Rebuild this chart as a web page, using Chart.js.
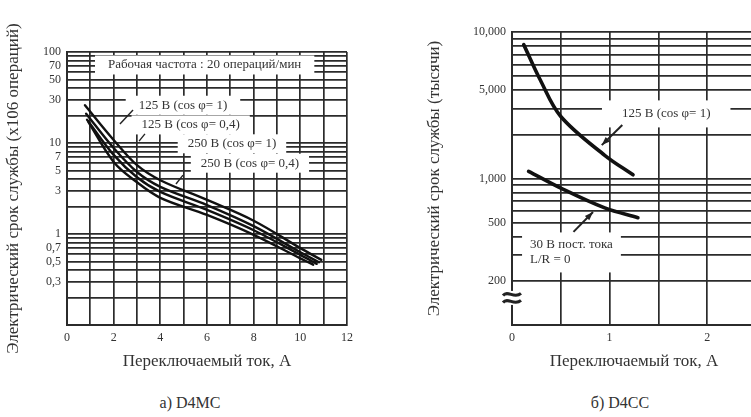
<!DOCTYPE html>
<html>
<head>
<meta charset="utf-8">
<script src="https://cdn.jsdelivr.net/npm/chart.js@4"></script>
<style>
  html, body { margin: 0; padding: 0; background: #fff; overflow: hidden; }
  body { width: 751px; height: 417px; position: relative; font-family: "Liberation Serif", serif; }
  .box { position: absolute; top: 0; height: 380px; }
  .cap { position: absolute; top: 394px; font-size: 16px; color: #333; transform: translateX(-50%); white-space: nowrap; }
</style>
</head>
<body>
<div class="box" style="left:0;width:375px"><canvas id="mc"></canvas></div>
<div class="box" style="left:400px;width:365px"><canvas id="cc"></canvas></div>
<div class="cap" style="left:190px">а) D4MC</div>
<div class="cap" style="left:620px">б) D4CC</div>
<script>
// --- D4MC: life (x10^6 operations) vs switched current, A
const mcLabels = ['125 В (cos φ= 1)', '125 В (cos φ= 0,4)', '250 В (cos φ= 1)', '250 В (cos φ= 0,4)'];
const mc125c1X = [0.77, 2, 3, 4, 6, 8, 10, 10.9];
const mc125c1Y = [26, 10.8, 5.7, 3.9, 2.37, 1.40, 0.70, 0.52];
const mc125c04X = [0.82, 2, 3, 4, 6, 8, 10, 10.8];
const mc125c04Y = [21, 8.8, 4.8, 3.3, 2.08, 1.22, 0.63, 0.49];
const mc250c1X = [0.86, 2, 3, 4, 6, 8, 10, 10.7];
const mc250c1Y = [18, 7.4, 4.2, 2.9, 1.84, 1.10, 0.59, 0.47];
const mc250c04X = [0.92, 2, 3, 4, 6, 8, 10, 10.55];
const mc250c04Y = [17, 6.2, 3.7, 2.5, 1.62, 0.98, 0.54, 0.46];
const mcGridY = [0.1, 0.2, 0.3, 0.4, 0.5, 0.6, 0.7, 0.8, 0.9, 1, 2, 3, 4, 5, 6, 7, 8, 9, 10, 20, 30, 40, 50, 60, 70, 80, 90, 100];
const mcTickY = { '100': '100', '70': '70', '50': '50', '30': '30', '10': '10', '7': '7', '5': '5', '3': '3', '1': '1', '0.7': '0,7', '0.5': '0,5', '0.3': '0,3' };

// --- D4CC: life (thousands) vs switched current, A
const cc125X = [0.12, 0.29, 0.5, 0.95, 1.24];
const cc125Y = [8200, 4700, 2650, 1440, 1060];
const cc30X = [0.17, 0.5, 0.95, 1.29];
const cc30Y = [1120, 860, 630, 540];
const ccGridY = [100, 200, 300, 400, 500, 600, 700, 800, 900, 1000, 2000, 3000, 4000, 5000, 6000, 7000, 8000, 9000, 10000];
const ccTickY = { '10000': '10,000', '4000': '5,000', '1000': '1,000', '500': '500', '200': '200' };

const ink = '#2b2b2b';
const serif = '"Liberation Serif", "DejaVu Serif", serif';

function pts(xs, ys) { return xs.map((x, i) => ({ x: x, y: ys[i] })); }

function curve(label, xs, ys, w) {
  return { label: label, data: pts(xs, ys), borderColor: '#111', borderWidth: w,
    pointRadius: 0, fill: false, tension: 0.35, borderCapStyle: 'round' };
}

// labels with white boxes, pointer lines, arrows and the axis break
const notes = {
  id: 'notes',
  beforeDatasetsDraw(chart, args, o) {
    const { ctx, scales: { x, y } } = chart;
    ctx.save();
    ctx.font = o.font;
    ctx.textBaseline = 'middle';
    (o.labels || []).forEach(l => {
      const px = x.getPixelForValue(l.x), py = y.getPixelForValue(l.y);
      const w = Math.max(...l.text.map(t => ctx.measureText(t).width));
      const lh = 15, h = l.text.length * lh;
      const left = l.align === 'left' ? px : px - w / 2;
      ctx.fillStyle = '#fff';
      ctx.fillRect(left - l.padX, py - lh / 2 - l.padY, w + 2 * l.padX, h + 2 * l.padY);
      ctx.fillStyle = '#333';
      ctx.textAlign = 'left';
      l.text.forEach((t, i) => ctx.fillText(t, left, py + i * lh));
    });
    ctx.restore();
  },
  afterDatasetsDraw(chart, args, o) {
    const { ctx, scales: { x, y } } = chart;
    ctx.save();
    ctx.strokeStyle = '#222';
    ctx.fillStyle = '#222';
    (o.pointers || []).forEach(p => {
      ctx.lineWidth = 1.4;
      ctx.beginPath();
      ctx.moveTo(x.getPixelForValue(p[0]), y.getPixelForValue(p[1]));
      ctx.lineTo(x.getPixelForValue(p[2]), y.getPixelForValue(p[3]));
      ctx.stroke();
    });
    (o.arrows || []).forEach(p => {
      const x0 = x.getPixelForValue(p[0]), y0 = y.getPixelForValue(p[1]);
      const x1 = x.getPixelForValue(p[2]), y1 = y.getPixelForValue(p[3]);
      const a = Math.atan2(y1 - y0, x1 - x0);
      ctx.lineWidth = 2;
      ctx.beginPath();
      ctx.moveTo(x0, y0);
      ctx.lineTo(x1, y1);
      ctx.stroke();
      ctx.beginPath();
      ctx.moveTo(x1, y1);
      ctx.lineTo(x1 - 9 * Math.cos(a - 0.35), y1 - 9 * Math.sin(a - 0.35));
      ctx.lineTo(x1 - 9 * Math.cos(a + 0.35), y1 - 9 * Math.sin(a + 0.35));
      ctx.closePath();
      ctx.fill();
    });
    if (o.breakAt) {
      const bx = x.getPixelForValue(o.breakAt[0]), by = y.getPixelForValue(o.breakAt[1]);
      ctx.fillStyle = '#fff';
      ctx.fillRect(bx - 8, by - 7, 16, 14);
      ctx.lineWidth = 3;
      [-3.5, 3.5].forEach(d => {
        ctx.beginPath();
        ctx.moveTo(bx - 9, by + d + 1);
        ctx.bezierCurveTo(bx - 4, by + d - 5, bx + 2, by + d + 5, bx + 9, by + d - 1);
        ctx.stroke();
      });
    }
    ctx.restore();
  }
};

function axes(xMin, xMax, xStep, xLabel, yMin, yMax, yGrid, yTicks, yWidth, titlePad) {
  const font = { family: serif, size: 12 };
  return {
    x: {
      type: 'linear', min: xMin, max: xMax,
      afterFit: s => { s.height = 55; },
      border: { color: ink, width: 2 },
      grid: { color: ink, lineWidth: 1.7, drawTicks: false },
      ticks: { stepSize: xStep, padding: 6, color: '#333', font: font,
        callback: v => (Number.isInteger(v) && xLabel(v)) ? String(v) : '' },
      title: { display: true, text: 'Переключаемый ток, A', color: '#333',
        font: { family: serif, size: 17 }, padding: { top: 0, bottom: 8 } }
    },
    y: {
      type: 'logarithmic', min: yMin, max: yMax,
      afterFit: s => { s.width = yWidth; },
      afterBuildTicks: s => { s.ticks = yGrid.map(v => ({ value: v })); },
      border: { color: ink, width: 2 },
      grid: { color: ink, lineWidth: 1.7, drawTicks: false },
      ticks: { autoSkip: false, padding: 6, color: '#333', font: font,
        callback: v => yTicks[String(v)] || '' },
      title: { display: true, color: '#333', font: { family: serif, size: 17 },
        padding: { top: titlePad, bottom: 0 } }
    }
  };
}

const mcScales = axes(0, 12, 1, v => v % 2 === 0, 0.1, 100, mcGridY, mcTickY, 67, 3);
mcScales.y.title.text = 'Электрический срок службы (x106 операций)';

new Chart(document.getElementById('mc'), {
  type: 'line',
  data: { datasets: [
    curve(mcLabels[0], mc125c1X, mc125c1Y, 2.4),
    curve(mcLabels[1], mc125c04X, mc125c04Y, 2.4),
    curve(mcLabels[2], mc250c1X, mc250c1Y, 2.4),
    curve(mcLabels[3], mc250c04X, mc250c04Y, 2.4)
  ] },
  options: {
    responsive: true, maintainAspectRatio: false, animation: false,
    layout: { padding: { top: 52, right: 28, left: 0, bottom: 0 } },
    scales: mcScales,
    plugins: {
      legend: { display: false }, tooltip: { enabled: false },
      notes: {
        font: '13px ' + serif,
        labels: [
          { text: ['Рабочая частота : 20 операций/мин'], x: 5.9, y: 72, padX: 13, padY: 2 },
          { text: [mcLabels[0]], x: 4.97, y: 26, padX: 13, padY: 2 },
          { text: [mcLabels[1]], x: 5.3, y: 15.8, padX: 10, padY: 2 },
          { text: [mcLabels[2]], x: 7.07, y: 9.8, padX: 10, padY: 2 },
          { text: [mcLabels[3]], x: 7.84, y: 6.0, padX: 10, padY: 2 }
        ],
        pointers: [
          [2.83, 23.1, 2.27, 16.2],
          [3.34, 12.6, 3.09, 10.5],
          [4.97, 4.44, 4.67, 3.54]
        ]
      }
    }
  },
  plugins: [notes]
});

const ccScales = axes(0, 2.5, 0.5, v => true, 100, 10000, ccGridY, ccTickY, 112, 24);
ccScales.y.title.text = 'Электрический срок службы (тысячи)';

new Chart(document.getElementById('cc'), {
  type: 'line',
  data: { datasets: [
    curve('125 В (cos φ= 1)', cc125X, cc125Y, 3.6),
    curve('30 В пост. тока', cc30X, cc30Y, 3.6)
  ] },
  options: {
    responsive: true, maintainAspectRatio: false, animation: false,
    layout: { padding: { top: 32, right: 9, left: 0, bottom: 0 } },
    scales: ccScales,
    plugins: {
      legend: { display: false }, tooltip: { enabled: false },
      notes: {
        font: '13px ' + serif,
        labels: [
          { text: ['125 В (cos φ= 1)'], x: 1.58, y: 2760, padX: 20, padY: 6 },
          { text: ['30 В пост. тока', 'L/R = 0'], x: 0.185, y: 352, align: 'left', padX: 8, padY: 5 }
        ],
        arrows: [
          [1.13, 2320, 0.92, 1690],
          [0.63, 432, 0.83, 590]
        ],
        breakAt: [0, 153]
      }
    }
  },
  plugins: [notes]
});
</script>
</body>
</html>
